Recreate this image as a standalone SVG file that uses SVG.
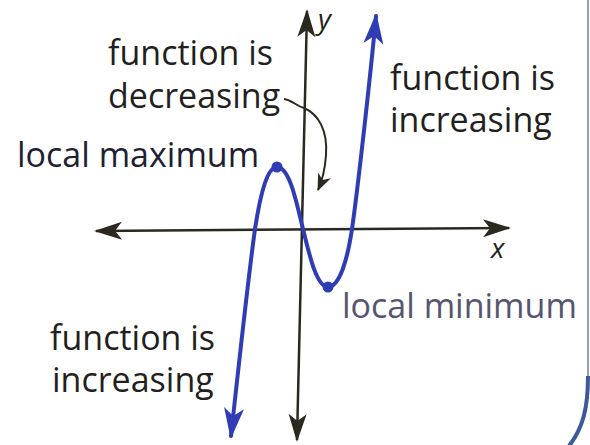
<svg xmlns="http://www.w3.org/2000/svg" width="590" height="445" viewBox="0 0 590 445">
<defs>
<style>
.lbl{font-family:"Open Sans","Noto Sans",sans-serif;font-size:34px;fill:#231f20}
.ax{fill:none;stroke:#2a281f;stroke-width:2.5}
.crv{fill:none;stroke:#2f3cb4;stroke-width:4;stroke-linecap:round}
.var{font-family:"Open Sans","Noto Sans",sans-serif;font-style:italic;font-size:28px;fill:#231f20}
</style>
<marker id="ah" markerUnits="userSpaceOnUse" markerWidth="30" markerHeight="24" viewBox="-28 -12 30 24" refX="0" refY="0" orient="auto-start-reverse">
<path d="M2,0 L-26,-9 L-19,0 L-26,9 Z" fill="#2a281f"/>
</marker>
<marker id="bh" markerUnits="userSpaceOnUse" markerWidth="32" markerHeight="26" viewBox="-30 -13 32 26" refX="0" refY="0" orient="auto-start-reverse">
<path d="M3,0 L-28,-10 L-20,0 L-28,10 Z" fill="#2f3cb4"/>
</marker>
<marker id="ch" markerUnits="userSpaceOnUse" markerWidth="20" markerHeight="16" viewBox="-18 -8 20 16" refX="0" refY="0" orient="auto">
<path d="M1,0 L-16,-7 L-11,0 L-16,7 Z" fill="#2a281f"/>
</marker>
</defs>
<rect width="590" height="445" fill="#ffffff"/>
<g id="frame">
<path d="M588,0 L588,380" fill="none" stroke="#7080a0" stroke-width="1.5"/>
<path d="M588,376 C588,408 583,428 569,446" fill="none" stroke="#3b5a98" stroke-width="4"/>
</g>
<g id="connectors">
<path id="x-axis" class="ax" d="M96,231 L509,228" marker-start="url(#ah)" marker-end="url(#ah)"/>
<path id="y-axis" class="ax" d="M307,11 L297,440" marker-start="url(#ah)" marker-end="url(#ah)"/>
<path id="curve" class="crv" d="M231,436 C236,390 250,265 255,229 C261,190 268,167 277,167 C290,167 297,205 303,229 C310,258 317,287 328,287 C339,287 347,262 352,229 C357,195 370,80 376,16" marker-start="url(#bh)" marker-end="url(#bh)"/>
<path id="decr-arrow" fill="none" stroke="#2a281f" stroke-width="2" d="M284,99 C292,100 296,106 304,108 C318,114 328,130 326,155 C325,170 322,181 318,190" marker-end="url(#ch)"/>
</g>
<g id="points">
<circle id="local-max" cx="277" cy="167" r="5.5" fill="#2f3cb4"/>
<circle id="local-min" cx="328" cy="287" r="5.5" fill="#2f3cb4"/>
</g>
<g id="labels">
<text class="var" x="318" y="29">y</text>
<text class="var" x="491" y="258">x</text>
<text class="lbl" x="108" y="65">function is</text>
<text class="lbl" x="108" y="108">decreasing</text>
<text class="lbl" x="17" y="167" style="fill:#1f1f33">local maximum</text>
<text class="lbl" x="390" y="90">function is</text>
<text class="lbl" x="390" y="132">increasing</text>
<text class="lbl" x="342" y="318" style="fill:#555570">local minimum</text>
<text class="lbl" x="50" y="350">function is</text>
<text class="lbl" x="52" y="392">increasing</text>
</g>
</svg>
